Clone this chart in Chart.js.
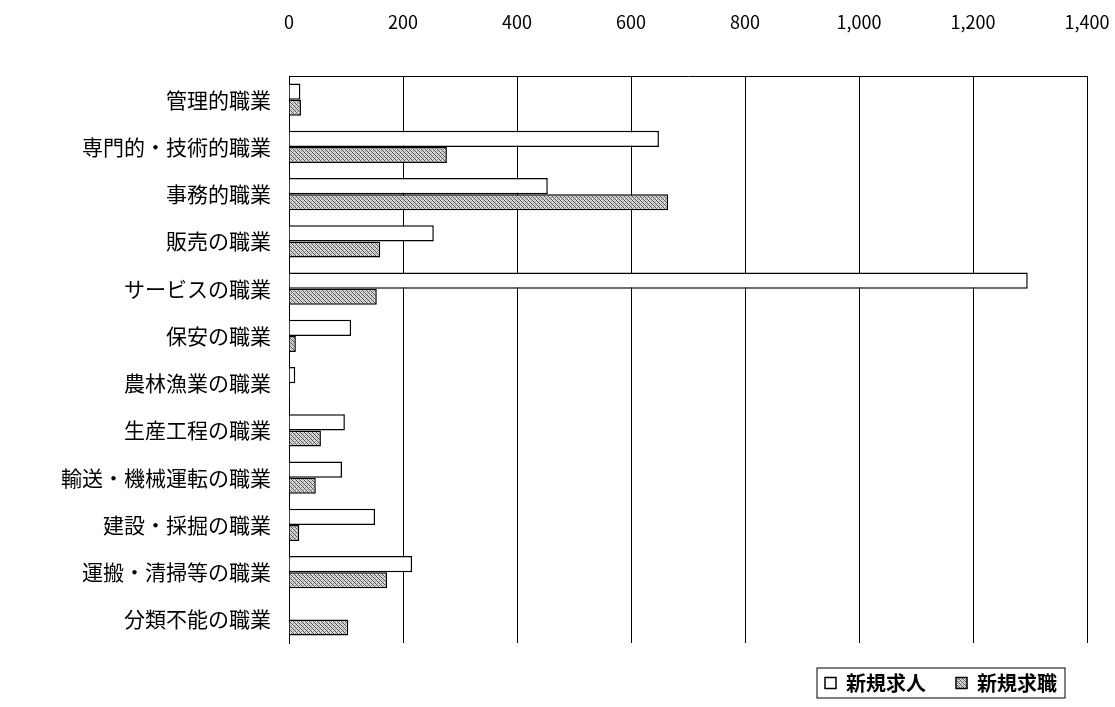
<!DOCTYPE html>
<html lang="ja">
  <head>
    <meta charset="UTF-8" />
    <title>職業別 新規求人・新規求職</title>
    <script src="https://cdn.jsdelivr.net/npm/chart.js"></script>
    <style>
      body { margin: 0; background: #fff; }
      .wrap { width: 1115px; height: 707px; }
    </style>
  </head>
  <body>
    <div class="wrap"><canvas id="chart"></canvas></div>
    <script>
      const categories = ["管理的職業", "専門的・技術的職業", "事務的職業", "販売の職業", "サービスの職業", "保安の職業",
        "農林漁業の職業", "生産工程の職業", "輸送・機械運転の職業", "建設・採掘の職業", "運搬・清掃等の職業", "分類不能の職業"];
      const newOffers = [20, 649, 454, 254, 1296, 109, 11, 98, 93, 151, 216, 0];
      const newSeekers = [21, 277, 665, 160, 154, 12, 2, 56, 47, 18, 172, 104];
      const seriesNames = ["新規求人", "新規求職"];

      const font = "'Noto Sans CJK JP', 'Noto Sans', sans-serif";

      // dense crosshatch for the second series
      function hatch() {
        const c = document.createElement("canvas");
        c.width = 4; c.height = 4;
        const g = c.getContext("2d");
        g.fillStyle = "#d8d8d8"; g.fillRect(0, 0, 4, 4);
        g.fillStyle = "#555";
        g.fillRect(0, 0, 1, 1); g.fillRect(2, 2, 1, 1);
        g.fillRect(1, 1, 1, 1); g.fillRect(3, 3, 1, 1);
        g.fillStyle = "#999";
        g.fillRect(3, 1, 1, 1); g.fillRect(1, 3, 1, 1);
        return g.createPattern(c, "repeat");
      }

      // x tick labels drawn high above the plot, like the original
      const topTicks = {
        id: "topTicks",
        afterDraw(chart) {
          const sx = chart.scales.x, ctx = chart.ctx;
          ctx.save();
          ctx.fillStyle = "#000";
          ctx.font = "18px " + font;
          ctx.textAlign = "center";
          ctx.textBaseline = "middle";
          sx.ticks.forEach(t => {
            ctx.fillText(t.value.toLocaleString("en-US"), sx.getPixelForValue(t.value), 22);
          });
          ctx.restore();
        }
      };

      const legendBox = {
        id: "legendBox",
        afterDraw(chart) {
          const hb = chart.legend.legendHitBoxes;
          if (!hb || !hb.length) return;
          const ctx = chart.ctx;
          const x0 = hb[0].left - 8, y0 = hb[0].top - 5;
          const last = hb[hb.length - 1];
          const x1 = last.left + last.width + 8, y1 = last.top + last.height + 5;
          ctx.save();
          ctx.strokeStyle = "#000"; ctx.lineWidth = 1;
          ctx.strokeRect(x0, y0, x1 - x0, y1 - y0);
          ctx.restore();
        }
      };

      new Chart(document.getElementById("chart"), {
        type: "bar",
        data: {
          labels: categories,
          datasets: [
            { label: seriesNames[0], data: newOffers, backgroundColor: "#fff", borderColor: "#000", borderWidth: 1.5 },
            { label: seriesNames[1], data: newSeekers, backgroundColor: hatch(), borderColor: "#000", borderWidth: 1.5 }
          ]
        },
        options: {
          indexAxis: "y",
          responsive: true,
          maintainAspectRatio: false,
          animation: false,
          layout: { padding: { left: 10, right: 28, top: 76, bottom: 4 } },
          datasets: { bar: { barPercentage: 1, categoryPercentage: 0.68 } },
          scales: {
            x: {
              position: "top",
              min: 0, max: 1400,
              ticks: { stepSize: 200, display: false },
              grid: { color: "#000", drawTicks: false },
              border: { color: "#000" }
            },
            y: {
              afterFit(scale) { scale.width = 279; },
              ticks: { color: "#000", font: { family: font, size: 21 }, padding: 10 },
              grid: { display: false },
              border: { color: "#000" }
            }
          },
          plugins: {
            legend: {
              position: "bottom",
              align: "end",
              labels: {
                color: "#000",
                font: { family: font, size: 20, weight: "bold" },
                boxWidth: 11, boxHeight: 11, padding: 30
              }
            },
            tooltip: { enabled: false }
          }
        },
        plugins: [topTicks, legendBox]
      });
    </script>
  </body>
</html>
